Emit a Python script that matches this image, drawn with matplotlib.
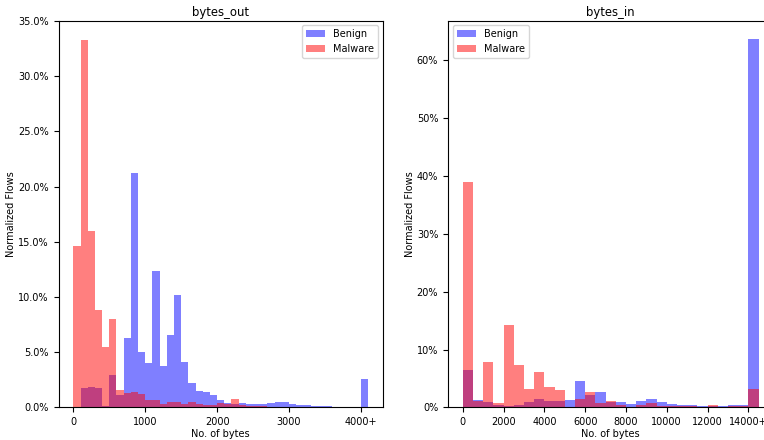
import numpy as np
import matplotlib
matplotlib.use("Agg")
import matplotlib.pyplot as plt
from matplotlib.ticker import PercentFormatter

# bin edges (bytes)
edges_out = np.arange(0, 4200, 100)     # 41 bins, last one = 4000+
edges_in = np.arange(0, 15000, 500)     # 29 bins, last one = 14000+

# normalized flows (%) per bin
benign_out = [0, 1.8, 1.87, 1.74, 0.15, 2.9, 1.15, 6.3, 21.2, 5.0,
              4.0, 12.4, 3.8, 6.6, 10.2, 4.1, 2.25, 1.5, 1.4, 1.1,
              0.7, 0.4, 0.35, 0.39, 0.36, 0.33, 0.3, 0.42, 0.54, 0.48,
              0.36, 0.24, 0.18, 0.12, 0.12, 0.12, 0.03, 0.03, 0.03, 0.03,
              2.56]
malware_out = [14.6, 33.3, 16.0, 8.8, 5.5, 8.0, 1.57, 1.33, 1.4, 1.2,
               0.72, 0.66, 0.36, 0.5, 0.54, 0.36, 0.48, 0.3, 0.18, 0.18,
               0.42, 0.36, 0.78, 0.27, 0.15, 0.12, 0.1, 0.08, 0.08, 0.06,
               0.06, 0.05, 0.04, 0.04, 0.03, 0.03, 0.02, 0.02, 0.02, 0.02,
               0.05]

benign_in = [6.5, 1.3, 0.9, 0.45, 0.3, 0.45, 0.95, 1.45, 1.1, 1.2,
             1.3, 4.5, 2.2, 2.6, 0.87, 0.95, 0.58, 1.05, 1.5, 0.95,
             0.6, 0.46, 0.42, 0.2, 0.23, 0.23, 0.38, 0.45, 63.6]
malware_in = [38.9, 1.2, 7.8, 0.75, 14.2, 7.25, 3.15, 6.1, 3.55, 3.0,
              0.15, 1.45, 2.75, 0.7, 1.05, 0.4, 0.12, 0.4, 0.7, 0.23,
              0.29, 0.23, 0.17, 0.12, 0.35, 0.12, 0.17, 0.23, 3.25]

ticks_out = [0, 1000, 2000, 3000, 4000]
ticklabels_out = ["0", "1000", "2000", "3000", "4000+"]
ticks_in = [0, 2000, 4000, 6000, 8000, 10000, 12000, 14000]
ticklabels_in = ["0", "2000", "4000", "6000", "8000", "10000", "12000", "14000+"]

plt.rcParams["font.size"] = 7.0
plt.rcParams["axes.titlesize"] = 8.4

fig = plt.figure(figsize=(7.64, 4.4), dpi=100)
ax1 = fig.add_axes([0.0767, 0.0739, 0.4243, 0.8795])
ax2 = fig.add_axes([0.5863, 0.0739, 0.4259, 0.8795])


def draw(ax, edges, benign, malware, ticks, ticklabels, title, decimals, loc):
    mids = edges[:-1] + np.diff(edges) / 2
    ax.hist(mids, bins=edges, weights=np.array(benign) / 100,
            color="blue", alpha=0.5, label="Benign")
    ax.hist(mids, bins=edges, weights=np.array(malware) / 100,
            color="red", alpha=0.5, label="Malware")
    ax.set_xticks(ticks)
    ax.set_xticklabels(ticklabels)
    ax.yaxis.set_major_formatter(PercentFormatter(xmax=1, decimals=decimals))
    ax.set_title(title, pad=3.5)
    ax.set_xlabel("No. of bytes", labelpad=1)
    ax.set_ylabel("Normalized Flows", labelpad=1.5)
    ax.legend(loc=loc)


draw(ax1, edges_out, benign_out, malware_out, ticks_out, ticklabels_out,
     "bytes_out", 1, "upper right")
draw(ax2, edges_in, benign_in, malware_in, ticks_in, ticklabels_in,
     "bytes_in", 0, "upper left")
ax1.set_ylim(0, 0.3505)

fig.savefig("out.png", dpi=100)
